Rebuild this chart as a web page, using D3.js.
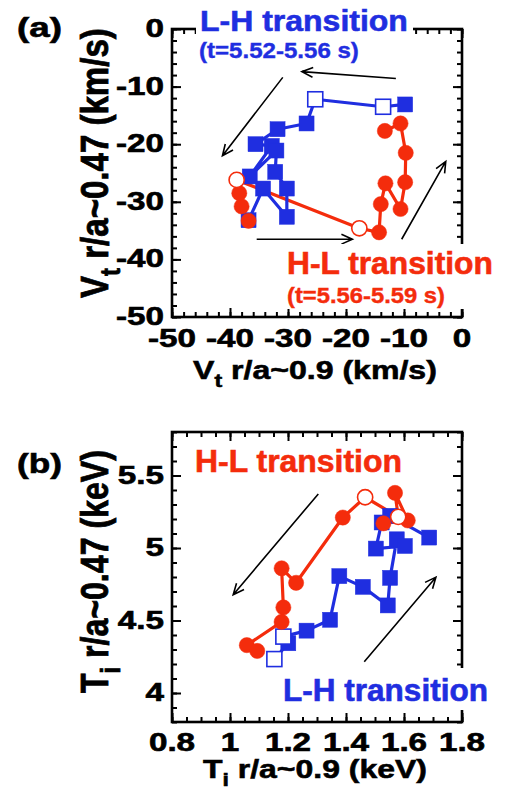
<!DOCTYPE html>
<html><head><meta charset="utf-8">
<script src="https://cdn.jsdelivr.net/npm/d3@7"></script>
<style>html,body{margin:0;padding:0;background:#fff}svg{display:block}</style>
</head><body>
<svg id="chart" width="508" height="789"></svg>
<script>
// ---------- DATA ----------
// Panel (a): Vt at r/a~0.9 (x) vs Vt at r/a~0.47 (y), km/s
const lhA_x = [-9.8, -13.6, -25.3, -26.8, -31.8, -35.6, -32.8, -36.6, -32.0, -32.2, -30.2, -30.2, -34.3, -36.8];
const lhA_y = [-13.1, -13.5, -12.2, -16.4, -17.4, -20.0, -20.3, -25.6, -21.1, -24.8, -27.7, -32.6, -27.7, -33.2];
const lhA_open = [false, true, true, false, false, false, false, false, false, false, false, false, false, false];
const hlA_x = [-36.8, -38.0, -38.4, -38.85, -17.7, -14.3, -14.0, -13.2, -10.6, -9.8, -9.7, -10.6, -13.3];
const hlA_y = [-33.3, -30.8, -28.5, -26.2, -34.6, -35.3, -30.4, -26.8, -31.25, -26.6, -21.5, -16.4, -17.7];
const hlA_open = [false, false, false, true, true, false, false, false, false, false, false, false, false];
// Panel (b): Ti at r/a~0.9 (x) vs Ti at r/a~0.47 (y), keV
const lhB_x = [1.153, 1.201, 1.184, 1.264, 1.345, 1.377, 1.458, 1.544, 1.552, 1.575, 1.603, 1.503, 1.523, 1.552, 1.687];
const lhB_y = [4.234, 4.343, 4.389, 4.43, 4.505, 4.806, 4.732, 4.604, 4.794, 5.06, 5.014, 4.996, 5.176, 5.222, 5.072];
const lhB_open = [true, false, true, false, false, false, false, false, false, false, false, false, false, false, false];
const hlB_x = [1.529, 1.613, 1.569, 1.580, 1.466, 1.389, 1.228, 1.178, 1.184, 1.178, 1.058, 1.094];
const hlB_y = [5.17, 5.19, 5.38, 5.215, 5.35, 5.21, 4.76, 4.86, 4.59, 4.49, 4.33, 4.29];
const hlB_open = [false, false, false, true, true, false, false, false, false, false, false, false];
// Arrows (data units)
const arrA_x1 = [-11.4, -30.9, -35.4, -10.4];
const arrA_y1 = [-8.6, -8.4, -36.5, -36.5];
const arrA_x2 = [-27.6, -41.3, -18.9, -2.8];
const arrA_y2 = [-7.4, -22.0, -36.5, -23.0];
const arrB_x1 = [1.3045, 1.463];
const arrB_y1 = [5.373, 4.215];
const arrB_x2 = [1.011, 1.71];
const arrB_y2 = [4.678, 4.799];
// Ticks
const ticksA_major = [-50, -40, -30, -20, -10, 0];
const ticksA_labels = ["-50", "-40", "-30", "-20", "-10", "0"];
const ticksA_minor = d3.range(-50, 0.001, 2);
const ticksBx_major = [0.8, 1.0, 1.2, 1.4, 1.6, 1.8];
const ticksBx_labels = ["0.8", "1", "1.2", "1.4", "1.6", "1.8"];
const ticksBx_minor = d3.range(0.8, 1.8001, 0.05);
const ticksBy_major = [4.0, 4.5, 5.0, 5.5];
const ticksBy_labels = ["4", "4.5", "5", "5.5"];
const ticksBy_minor = d3.range(3.8, 5.8001, 0.1);

// ---------- STYLE ----------
const BLUE = "#1f2ee0", RED = "#f42c0c";
const FONT = "'Liberation Sans', Arial, Helvetica, sans-serif";
const svg = d3.select("#chart");

const xA = d3.scaleLinear().domain([-50, 0]).range([172, 462]);
const yA = d3.scaleLinear().domain([-50, 0]).range([317, 29]);
const xB = d3.scaleLinear().domain([0.8, 1.8]).range([172, 462]);
const yB = d3.scaleLinear().domain([3.8, 5.8]).range([722, 432]);

function fitText(parent, parts, o) {
  const col = o.color || "#000";
  const t = parent.append("text").attr("font-family", FONT).attr("font-weight", "bold")
    .attr("font-size", o.size).attr("fill", col).attr("stroke", col).attr("stroke-width", o.sw == null ? 0.6 : o.sw);
  parts.forEach((p, i) => {
    const ts = t.append("tspan").text(p[0]);
    if (p[1]) ts.attr("font-size", o.size * 0.72).attr("dy", o.size * 0.3);
    else if (i > 0 && parts[i - 1][1]) ts.attr("dy", -o.size * 0.3);
  });
  const w = t.node().getBBox().width;
  const sx = o.width / w;
  t.attr("transform", `translate(${o.x},${o.y}) rotate(${o.rot || 0}) scale(${sx},${o.sy || 1})`);
  return t;
}

function frame(g, x, y, xMaj, xMin, yMaj, yMin, xLab, yLab, xLabY) {
  const [x0, x1] = x.range(), [y0, y1] = y.range();
  const mk = (axis, tv, size, tr) => {
    const a = g.append("g").attr("transform", tr)
      .call(axis.tickValues(tv).tickSize(size).tickFormat(""));
    a.select(".domain").remove();
    a.selectAll("line").attr("stroke", "#000").attr("stroke-width", 2);
  };
  mk(d3.axisBottom(x), xMin, -5, `translate(0,${y0})`);
  mk(d3.axisBottom(x), xMaj, -9, `translate(0,${y0})`);
  mk(d3.axisTop(x), xMin, -5, `translate(0,${y1})`);
  mk(d3.axisTop(x), xMaj, -9, `translate(0,${y1})`);
  mk(d3.axisLeft(y), yMin, -5, `translate(${x0},0)`);
  mk(d3.axisLeft(y), yMaj, -9, `translate(${x0},0)`);
  mk(d3.axisRight(y), yMin, -5, `translate(${x1},0)`);
  mk(d3.axisRight(y), yMaj, -9, `translate(${x1},0)`);
  g.append("rect").attr("x", x0).attr("y", y1).attr("width", x1 - x0).attr("height", y0 - y1)
    .attr("fill", "none").attr("stroke", "#000").attr("stroke-width", 2.6);
  const lab = (s, anchor, tr) => g.append("text").text(s).attr("font-family", FONT).attr("font-weight", "bold")
    .attr("font-size", 25).attr("text-anchor", anchor).attr("stroke", "#000").attr("stroke-width", 0.6)
    .attr("transform", tr);
  xMaj.forEach((v, i) => lab(xLab[i], "middle", `translate(${x(v)},${xLabY}) scale(1.33,1)`));
  yMaj.forEach((v, i) => lab(yLab[i], "end", `translate(164,${y(v) + 8}) scale(1.33,1)`));
}

function series(g, x, y, xs, ys, open, color, kind, part) {
  const pts = xs.map((v, i) => ({ x: x(v), y: y(ys[i]), open: open[i] }));
  if (part === "line") {
    g.append("path").datum(pts).attr("fill", "none").attr("stroke", color).attr("stroke-width", 3.2)
      .attr("stroke-linejoin", "round").attr("d", d3.line().x(d => d.x).y(d => d.y));
    return;
  }
  if (kind === "square") {
    const s = 15;
    g.selectAll(null).data(pts).join("rect")
      .attr("x", d => d.x - s / 2).attr("y", d => d.y - s / 2).attr("width", s).attr("height", s)
      .attr("fill", d => d.open ? "#fff" : color).attr("stroke", color)
      .attr("stroke-width", d => d.open ? 1.6 : 0.5);
  } else {
    g.selectAll(null).data(pts).join("circle")
      .attr("cx", d => d.x).attr("cy", d => d.y).attr("r", 7.6)
      .attr("fill", d => d.open ? "#fff" : color).attr("stroke", color)
      .attr("stroke-width", d => d.open ? 1.6 : 0.5);
  }
}

function arrows(g, x, y, x1s, y1s, x2s, y2s) {
  x1s.forEach((_, i) => {
    const ax = x(x1s[i]), ay = y(y1s[i]), bx = x(x2s[i]), by = y(y2s[i]);
    const ang = Math.atan2(by - ay, bx - ax), L = 12, h = 0.42;
    const p1 = [bx - L * Math.cos(ang - h), by - L * Math.sin(ang - h)];
    const p2 = [bx - L * Math.cos(ang + h), by - L * Math.sin(ang + h)];
    g.append("path").attr("d", `M${ax},${ay}L${bx},${by}M${p1[0]},${p1[1]}L${bx},${by}L${p2[0]},${p2[1]}`)
      .attr("fill", "none").attr("stroke", "#000").attr("stroke-width", 1.6);
  });
}

// ---------- PANEL A ----------
const gA = svg.append("g");
frame(gA, xA, yA, ticksA_major, ticksA_minor, ticksA_major, ticksA_minor, ticksA_labels, ticksA_labels, 347);
arrows(gA, xA, yA, arrA_x1, arrA_y1, arrA_x2, arrA_y2);
series(gA, xA, yA, hlA_x, hlA_y, hlA_open, RED, "circle", "line");
series(gA, xA, yA, lhA_x, lhA_y, lhA_open, BLUE, "square", "line");
series(gA, xA, yA, lhA_x, lhA_y, lhA_open, BLUE, "square", "marks");
series(gA, xA, yA, hlA_x, hlA_y, hlA_open, RED, "circle", "marks");
gA.append("rect").attr("x", 196).attr("y", 0).attr("width", 217).attr("height", 38).attr("fill", "#fff");
gA.append("rect").attr("x", 283).attr("y", 244).attr("width", 215).attr("height", 65).attr("fill", "#fff");
fitText(gA, [["L-H transition"]], { x: 200, y: 31, width: 208, size: 30, color: BLUE });
fitText(gA, [["(t=5.52-5.56 s)"]], { x: 199, y: 58, width: 160, size: 22, color: BLUE, sw: 0.4 });
fitText(gA, [["H-L transition"]], { x: 287, y: 274, width: 206, size: 31, color: RED });
fitText(gA, [["(t=5.56-5.59 s)"]], { x: 287, y: 303, width: 158, size: 22, color: RED, sw: 0.4 });
fitText(gA, [["(a)"]], { x: 17, y: 37, width: 45, size: 27 });
fitText(gA, [["V"], ["t", true], [" r/a~0.9 (km/s)"]], { x: 193, y: 379, width: 244, size: 26.5 });
fitText(gA, [["V"], ["t", true], [" r/a~0.47 (km/s)"]], { x: 108, y: 298, width: 270, size: 28, rot: -90, sy: 1.4 });

// ---------- PANEL B ----------
const gB = svg.append("g");
frame(gB, xB, yB, ticksBx_major, ticksBx_minor, ticksBy_major, ticksBy_minor, ticksBx_labels, ticksBy_labels, 751);
arrows(gB, xB, yB, arrB_x1, arrB_y1, arrB_x2, arrB_y2);
series(gB, xB, yB, hlB_x, hlB_y, hlB_open, RED, "circle", "line");
series(gB, xB, yB, lhB_x, lhB_y, lhB_open, BLUE, "square", "line");
series(gB, xB, yB, lhB_x, lhB_y, lhB_open, BLUE, "square", "marks");
series(gB, xB, yB, hlB_x, hlB_y, hlB_open, RED, "circle", "marks");
gB.append("rect").attr("x", 280).attr("y", 668).attr("width", 218).attr("height", 42).attr("fill", "#fff");
fitText(gB, [["H-L transition"]], { x: 195, y: 472, width: 207, size: 31, color: RED });
fitText(gB, [["L-H transition"]], { x: 283, y: 701, width: 205, size: 31, color: BLUE });
fitText(gB, [["(b)"]], { x: 17, y: 473, width: 45, size: 27 });
fitText(gB, [["T"], ["i", true], [" r/a~0.9 (keV)"]], { x: 203, y: 778, width: 224, size: 26.5 });
fitText(gB, [["T"], ["i", true], [" r/a~0.47 (keV)"]], { x: 108, y: 693, width: 243, size: 28, rot: -90, sy: 1.4 });
</script>
</body></html>
